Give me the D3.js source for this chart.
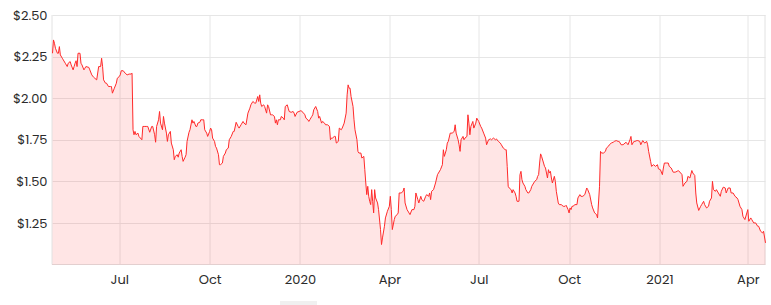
<!DOCTYPE html>
<html>
<head>
<meta charset="utf-8">
<script src="https://cdn.jsdelivr.net/npm/d3@7"></script>
<style>
  html, body { margin: 0; padding: 0; background: #fff; }
  svg { display: block; }
  .axis text { fill: #2b2b2b; font-size: 13px; font-family: "Poppins", "Open Sans", "Noto Sans", sans-serif; }
  .axis path, .axis line { display: none; }
</style>
</head>
<body>
<svg width="771" height="305"></svg>
<script>
// share price, Apr 2019 - Apr 2021
var dates = [
  "2019-04-24","2019-04-25","2019-04-26","2019-04-27","2019-04-29","2019-04-30","2019-05-01","2019-05-02","2019-05-04","2019-05-05",
  "2019-05-07","2019-05-09","2019-05-10","2019-05-12","2019-05-13","2019-05-15","2019-05-16","2019-05-17","2019-05-18","2019-05-19",
  "2019-05-20","2019-05-22","2019-05-23","2019-05-24","2019-05-26","2019-05-27","2019-05-28","2019-05-31","2019-06-01","2019-06-03",
  "2019-06-05","2019-06-06","2019-06-08","2019-06-10","2019-06-12","2019-06-13","2019-06-14","2019-06-15","2019-06-17","2019-06-18",
  "2019-06-20","2019-06-22","2019-06-23","2019-06-24","2019-06-26","2019-06-28","2019-06-29","2019-07-01","2019-07-02","2019-07-03",
  "2019-07-05","2019-07-07","2019-07-09","2019-07-11","2019-07-13","2019-07-14","2019-07-15","2019-07-16","2019-07-17","2019-07-18",
  "2019-07-20","2019-07-21","2019-07-24","2019-07-25","2019-07-27","2019-07-29","2019-07-30","2019-08-01","2019-08-03","2019-08-04",
  "2019-08-06","2019-08-07","2019-08-08","2019-08-10","2019-08-11","2019-08-12","2019-08-14","2019-08-15","2019-08-16","2019-08-18",
  "2019-08-19","2019-08-20","2019-08-22","2019-08-23","2019-08-25","2019-08-26","2019-08-27","2019-08-29","2019-08-30","2019-08-31",
  "2019-09-02","2019-09-03","2019-09-04","2019-09-06","2019-09-07","2019-09-08","2019-09-10","2019-09-11","2019-09-13","2019-09-14",
  "2019-09-15","2019-09-17","2019-09-18","2019-09-19","2019-09-21","2019-09-22","2019-09-24","2019-09-25","2019-09-26","2019-09-28",
  "2019-09-29","2019-10-01","2019-10-02","2019-10-03","2019-10-04","2019-10-06","2019-10-07","2019-10-08","2019-10-10","2019-10-11",
  "2019-10-12","2019-10-14","2019-10-15","2019-10-17","2019-10-18","2019-10-20","2019-10-21","2019-10-23","2019-10-25","2019-10-26",
  "2019-10-28","2019-10-30","2019-10-31","2019-11-02","2019-11-04","2019-11-05","2019-11-07","2019-11-09","2019-11-11","2019-11-12",
  "2019-11-14","2019-11-16","2019-11-17","2019-11-19","2019-11-20","2019-11-21","2019-11-22","2019-11-23","2019-11-25","2019-11-26",
  "2019-11-28","2019-11-29","2019-11-30","2019-12-02","2019-12-03","2019-12-04","2019-12-06","2019-12-07","2019-12-08","2019-12-09",
  "2019-12-10","2019-12-12","2019-12-13","2019-12-15","2019-12-16","2019-12-17","2019-12-19","2019-12-20","2019-12-21","2019-12-23",
  "2019-12-25","2019-12-26","2019-12-27","2019-12-29","2019-12-31","2020-01-02","2020-01-03","2020-01-04","2020-01-06","2020-01-07",
  "2020-01-09","2020-01-10","2020-01-11","2020-01-13","2020-01-14","2020-01-15","2020-01-17","2020-01-19","2020-01-20","2020-01-21",
  "2020-01-23","2020-01-24","2020-01-26","2020-01-27","2020-01-29","2020-01-31","2020-02-01","2020-02-02","2020-02-03","2020-02-05",
  "2020-02-06","2020-02-07","2020-02-09","2020-02-10","2020-02-12","2020-02-13","2020-02-15","2020-02-17","2020-02-18","2020-02-19",
  "2020-02-20","2020-02-21","2020-02-22","2020-02-24","2020-02-25","2020-02-26","2020-02-28","2020-02-29","2020-03-01","2020-03-03",
  "2020-03-04","2020-03-06","2020-03-07","2020-03-08","2020-03-09","2020-03-10","2020-03-11","2020-03-12","2020-03-13","2020-03-14",
  "2020-03-15","2020-03-16","2020-03-17","2020-03-18","2020-03-20","2020-03-21","2020-03-23","2020-03-24","2020-03-25","2020-03-27",
  "2020-03-28","2020-03-30","2020-04-01","2020-04-02","2020-04-03","2020-04-04","2020-04-06","2020-04-07","2020-04-09","2020-04-10",
  "2020-04-11","2020-04-13","2020-04-15","2020-04-16","2020-04-17","2020-04-19","2020-04-21","2020-04-22","2020-04-24","2020-04-26",
  "2020-04-27","2020-04-28","2020-04-30","2020-05-01","2020-05-03","2020-05-04","2020-05-06","2020-05-08","2020-05-09","2020-05-11",
  "2020-05-12","2020-05-13","2020-05-14","2020-05-16","2020-05-18","2020-05-20","2020-05-21","2020-05-23","2020-05-25","2020-05-26",
  "2020-05-27","2020-05-29","2020-05-30","2020-05-31","2020-06-02","2020-06-04","2020-06-06","2020-06-07","2020-06-08","2020-06-10",
  "2020-06-11","2020-06-12","2020-06-13","2020-06-15","2020-06-16","2020-06-17","2020-06-19","2020-06-20","2020-06-21","2020-06-22",
  "2020-06-23","2020-06-25","2020-06-26","2020-06-28","2020-06-29","2020-07-01","2020-07-03","2020-07-04","2020-07-06","2020-07-08",
  "2020-07-09","2020-07-11","2020-07-13","2020-07-14","2020-07-16","2020-07-18","2020-07-19","2020-07-21","2020-07-23","2020-07-24",
  "2020-07-26","2020-07-28","2020-07-29","2020-07-30","2020-07-31","2020-08-01","2020-08-03","2020-08-04","2020-08-05","2020-08-07",
  "2020-08-08","2020-08-09","2020-08-11","2020-08-12","2020-08-13","2020-08-14","2020-08-15","2020-08-17","2020-08-18","2020-08-20",
  "2020-08-21","2020-08-23","2020-08-24","2020-08-26","2020-08-27","2020-08-29","2020-08-30","2020-08-31","2020-09-01","2020-09-02",
  "2020-09-03","2020-09-05","2020-09-06","2020-09-07","2020-09-09","2020-09-10","2020-09-11","2020-09-12","2020-09-13","2020-09-14",
  "2020-09-16","2020-09-17","2020-09-18","2020-09-20","2020-09-21","2020-09-23","2020-09-25","2020-09-27","2020-09-28","2020-09-30",
  "2020-10-01","2020-10-02","2020-10-03","2020-10-04","2020-10-05","2020-10-07","2020-10-09","2020-10-10","2020-10-12","2020-10-13",
  "2020-10-15","2020-10-17","2020-10-19","2020-10-20","2020-10-22","2020-10-24","2020-10-25","2020-10-27","2020-10-29","2020-10-30",
  "2020-11-01","2020-11-02","2020-11-03","2020-11-05","2020-11-07","2020-11-08","2020-11-10","2020-11-11","2020-11-13","2020-11-15",
  "2020-11-16","2020-11-18","2020-11-20","2020-11-21","2020-11-23","2020-11-25","2020-11-27","2020-11-28","2020-11-30","2020-12-02",
  "2020-12-03","2020-12-04","2020-12-06","2020-12-07","2020-12-09","2020-12-10","2020-12-12","2020-12-13","2020-12-15","2020-12-17",
  "2020-12-19","2020-12-20","2020-12-21","2020-12-23","2020-12-24","2020-12-26","2020-12-28","2020-12-30","2020-12-31","2021-01-02",
  "2021-01-04","2021-01-05","2021-01-06","2021-01-08","2021-01-10","2021-01-11","2021-01-13","2021-01-15","2021-01-17","2021-01-19",
  "2021-01-20","2021-01-22","2021-01-24","2021-01-25","2021-01-27","2021-01-29","2021-01-30","2021-02-01","2021-02-03","2021-02-04",
  "2021-02-06","2021-02-07","2021-02-08","2021-02-10","2021-02-12","2021-02-13","2021-02-15","2021-02-16","2021-02-18","2021-02-20",
  "2021-02-21","2021-02-23","2021-02-24","2021-02-25","2021-02-27","2021-02-28","2021-03-02","2021-03-04","2021-03-05","2021-03-07",
  "2021-03-09","2021-03-10","2021-03-12","2021-03-14","2021-03-15","2021-03-17","2021-03-19","2021-03-21","2021-03-22","2021-03-24",
  "2021-03-26","2021-03-27","2021-03-29","2021-03-31","2021-04-01","2021-04-02","2021-04-04","2021-04-05","2021-04-07","2021-04-09",
  "2021-04-11","2021-04-12","2021-04-14","2021-04-16","2021-04-17","2021-04-19"
];

var prices = [
  2.27,2.35,2.33,2.30,2.27,2.27,2.31,2.26,2.24,2.23,
  2.21,2.19,2.21,2.22,2.20,2.17,2.19,2.21,2.225,2.19,
  2.27,2.27,2.21,2.20,2.17,2.18,2.19,2.185,2.17,2.14,
  2.125,2.12,2.11,2.19,2.19,2.24,2.19,2.11,2.09,2.09,
  2.07,2.07,2.07,2.03,2.06,2.09,2.12,2.13,2.14,2.165,
  2.165,2.15,2.14,2.145,2.145,2.15,1.81,1.78,1.80,1.78,
  1.79,1.77,1.75,1.83,1.83,1.83,1.83,1.795,1.83,1.83,
  1.78,1.735,1.83,1.87,1.92,1.85,1.81,1.89,1.85,1.79,
  1.74,1.78,1.80,1.73,1.69,1.63,1.65,1.66,1.645,1.67,
  1.69,1.65,1.62,1.645,1.66,1.74,1.795,1.81,1.87,1.85,
  1.86,1.83,1.83,1.85,1.855,1.87,1.87,1.87,1.81,1.79,
  1.77,1.80,1.82,1.81,1.76,1.74,1.71,1.70,1.66,1.60,
  1.60,1.61,1.65,1.67,1.69,1.70,1.75,1.77,1.80,1.80,
  1.855,1.83,1.82,1.84,1.86,1.85,1.84,1.91,1.94,1.96,
  1.98,1.97,1.97,2.01,1.98,2.02,1.97,1.95,1.96,1.95,
  1.91,1.96,1.95,1.90,1.90,1.90,1.89,1.85,1.87,1.84,
  1.87,1.87,1.89,1.88,1.87,1.95,1.96,1.94,1.92,1.915,
  1.92,1.91,1.89,1.915,1.92,1.925,1.92,1.915,1.90,1.88,
  1.87,1.86,1.87,1.89,1.90,1.93,1.95,1.92,1.88,1.89,
  1.85,1.86,1.85,1.84,1.84,1.83,1.75,1.76,1.76,1.77,
  1.77,1.73,1.74,1.82,1.81,1.82,1.85,1.91,2.02,2.08,
  2.06,2.06,2.01,1.95,1.87,1.81,1.75,1.68,1.67,1.67,
  1.64,1.65,1.57,1.49,1.42,1.47,1.41,1.38,1.36,1.45,
  1.38,1.31,1.45,1.40,1.37,1.33,1.21,1.12,1.16,1.23,
  1.28,1.32,1.35,1.41,1.33,1.21,1.27,1.29,1.30,1.31,
  1.43,1.43,1.44,1.46,1.37,1.33,1.31,1.30,1.33,1.33,
  1.35,1.43,1.39,1.37,1.41,1.39,1.38,1.41,1.42,1.41,
  1.43,1.39,1.44,1.45,1.49,1.54,1.55,1.57,1.60,1.69,
  1.65,1.69,1.73,1.74,1.79,1.79,1.80,1.84,1.79,1.75,
  1.72,1.68,1.75,1.77,1.75,1.76,1.77,1.90,1.85,1.78,
  1.83,1.86,1.82,1.85,1.88,1.86,1.83,1.82,1.79,1.76,
  1.72,1.75,1.755,1.75,1.76,1.75,1.755,1.74,1.73,1.72,
  1.70,1.69,1.69,1.59,1.47,1.46,1.45,1.43,1.45,1.43,
  1.41,1.38,1.38,1.54,1.56,1.51,1.49,1.47,1.45,1.43,
  1.43,1.45,1.47,1.49,1.50,1.51,1.53,1.54,1.61,1.665,
  1.65,1.61,1.59,1.58,1.52,1.57,1.55,1.56,1.52,1.49,
  1.53,1.50,1.44,1.37,1.36,1.36,1.35,1.35,1.356,1.33,
  1.31,1.34,1.33,1.35,1.35,1.36,1.36,1.40,1.42,1.41,
  1.41,1.42,1.46,1.45,1.42,1.36,1.34,1.31,1.30,1.28,
  1.47,1.68,1.67,1.67,1.68,1.70,1.71,1.72,1.73,1.735,
  1.74,1.745,1.74,1.74,1.72,1.72,1.73,1.735,1.72,1.75,
  1.77,1.72,1.74,1.74,1.745,1.745,1.74,1.72,1.745,1.73,
  1.74,1.72,1.68,1.62,1.59,1.60,1.59,1.60,1.575,1.57,
  1.54,1.58,1.61,1.61,1.61,1.59,1.58,1.555,1.555,1.56,
  1.565,1.555,1.54,1.47,1.49,1.50,1.53,1.52,1.565,1.55,
  1.535,1.43,1.37,1.325,1.35,1.36,1.38,1.36,1.34,1.35,
  1.38,1.40,1.50,1.45,1.44,1.45,1.43,1.41,1.44,1.465,
  1.46,1.43,1.46,1.46,1.43,1.43,1.41,1.40,1.39,1.35,
  1.33,1.29,1.27,1.31,1.33,1.26,1.28,1.27,1.25,1.25,
  1.23,1.23,1.20,1.19,1.20,1.13
];

var yTicks = [1.25, 1.5, 1.75, 2.0, 2.25, 2.5];
var xTicks = ["2019-07-01", "2019-10-01", "2020-01-01", "2020-04-01", "2020-07-01", "2020-10-01", "2021-01-01", "2021-04-01"];
var xTickLabels = ["Jul", "Oct", "2020", "Apr", "Jul", "Oct", "2021", "Apr"];

var parseDate = d3.timeParse("%Y-%m-%d");

var data = dates.map(function(d, i) {
    return { date: parseDate(d), price: prices[i] };
});

var svg = d3.select("svg"),
    margin = { top: 15, right: 5.5, bottom: 40.5, left: 52.5 },
    width = +svg.attr("width") - margin.left - margin.right,
    height = +svg.attr("height") - margin.top - margin.bottom;

var x = d3.scaleTime()
    .domain([parseDate("2019-04-24"), parseDate("2021-04-19")])
    .range([0, width]);

var y = d3.scaleLinear()
    .domain([1.0, 2.5])
    .range([height, 0]);

var g = svg.append("g")
    .attr("transform", "translate(" + margin.left + "," + margin.top + ")");

// grid
var grid = g.append("g").attr("class", "grid");

grid.selectAll(".hline")
    .data(yTicks)
    .enter().append("line")
    .attr("x1", 0)
    .attr("x2", width)
    .attr("y1", function(d) { return Math.round(y(d)) + 0.5; })
    .attr("y2", function(d) { return Math.round(y(d)) + 0.5; })
    .attr("stroke", "#e6e6e6");

grid.selectAll(".vline")
    .data(xTicks)
    .enter().append("line")
    .attr("x1", function(d) { return Math.round(x(parseDate(d))) + 0.5; })
    .attr("x2", function(d) { return Math.round(x(parseDate(d))) + 0.5; })
    .attr("y1", 0)
    .attr("y2", height)
    .attr("stroke", "#e6e6e6");

// plot frame sides
grid.append("line")
    .attr("x1", -0.5).attr("x2", -0.5)
    .attr("y1", 0).attr("y2", height)
    .attr("stroke", "#e2e2e2");
grid.append("line")
    .attr("x1", width - 0.5).attr("x2", width - 0.5)
    .attr("y1", 0).attr("y2", height)
    .attr("stroke", "#e2e2e2");

var area = d3.area()
    .x(function(d) { return x(d.date); })
    .y0(height)
    .y1(function(d) { return y(d.price); });

var line = d3.line()
    .x(function(d) { return x(d.date); })
    .y(function(d) { return y(d.price); });

g.append("path")
    .datum(data)
    .attr("fill", "rgba(255, 40, 40, 0.12)")
    .attr("d", area);

g.append("path")
    .datum(data)
    .attr("fill", "none")
    .attr("stroke", "#ff2a2a")
    .attr("stroke-width", 1)
    .attr("stroke-linejoin", "round")
    .attr("d", line);

// bottom baseline
g.append("line")
    .attr("x1", -0.5)
    .attr("x2", width)
    .attr("y1", height)
    .attr("y2", height)
    .attr("stroke", "#e3cfcf");

var xAxis = d3.axisBottom(x)
    .tickValues(xTicks.map(parseDate))
    .tickFormat(function(d, i) { return xTickLabels[i]; })
    .tickSize(0)
    .tickPadding(10);

var yAxis = d3.axisLeft(y)
    .tickValues(yTicks)
    .tickFormat(function(d) { return "$" + d3.format(".2f")(d); })
    .tickSize(0)
    .tickPadding(5);

g.append("g")
    .attr("class", "axis axis--x")
    .attr("transform", "translate(0," + height + ")")
    .call(xAxis);

g.append("g")
    .attr("class", "axis axis--y")
    .call(yAxis);

// navigator handle stub at the bottom
svg.append("rect")
    .attr("x", 280)
    .attr("y", 301)
    .attr("width", 37)
    .attr("height", 4)
    .attr("fill", "#f0f0f0");
</script>
</body>
</html>
